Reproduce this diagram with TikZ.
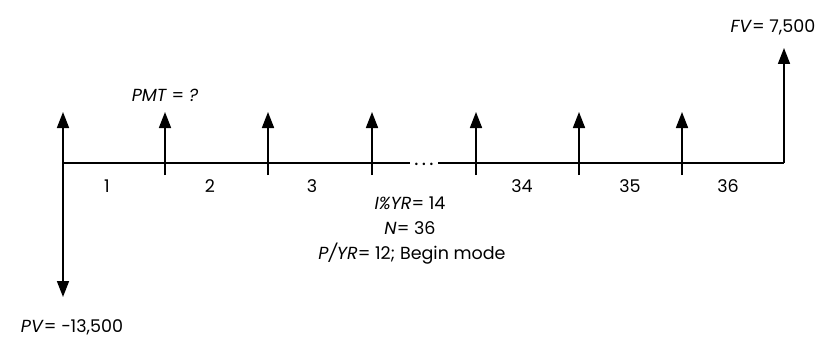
\documentclass[tikz,border=0pt]{standalone}
\usepackage{fontspec}
\setmainfont{Poppins}
\usetikzlibrary{arrows.meta}

\begin{document}
\begin{tikzpicture}[x=1pt,y=-1pt,
  flow/.style={line width=1.7pt,-{Triangle[length=16pt,width=12pt]}},
  lbl/.style={font=\fontsize{17.5}{21}\selectfont,inner sep=0pt,anchor=base}]
  \useasboundingbox (0,0) rectangle (828,337);
  % time line
  \foreach \name/\x in {p0/63,p1/165,p2/268,p3/372,p4/476,p5/579,p6/682,p7/784}{
    \coordinate (\name) at (\x,163);
    \coordinate (\name b) at (\x,175);
    \coordinate (\name t) at (\x,112);
  }
  \node[inner sep=0pt,font=\fontsize{20}{24}\selectfont] (dots) at (424,164) {.\,.\,.};
  \coordinate (gapl) at (410,163);
  \coordinate (gapr) at (438,163);
  \draw[line width=1.7pt] (p0) -- (gapl);
  \draw[line width=1.7pt] (gapr) -- (p7);
  % payments
  \draw[flow] (p0) -- (p0t);
  \foreach \i in {1,...,6}
    \draw[flow] (p\i b) -- (p\i t);
  \coordinate (pvtip) at (63,297);
  \coordinate (fvtip) at (784,48);
  \draw[flow] (p0) -- (pvtip);
  \draw[flow] (p7) -- (fvtip);
  % period numbers
  \foreach \n/\x in {1/107,2/210,3/312,34/522,35/630,36/728}
    \node[lbl] (n\n) at (\x,192) {\n};
  % values
  \node[lbl] (pmt) at (165,102) {\textit{PMT} = \textit{?}};
  \node[lbl] (fv) at (773,33) {\textit{FV}= 7,500};
  \node[lbl] (pv) at (72,332) {\textit{PV}= −13,500};
  \node[lbl] (iyr) at (410,209) {\textit{I\%YR}= 14};
  \node[lbl] (nn) at (410,234) {\textit{N}= 36};
  \node[lbl] (pyr) at (412,259) {\textit{P/YR}= 12; Begin mode};
\end{tikzpicture}
\end{document}
